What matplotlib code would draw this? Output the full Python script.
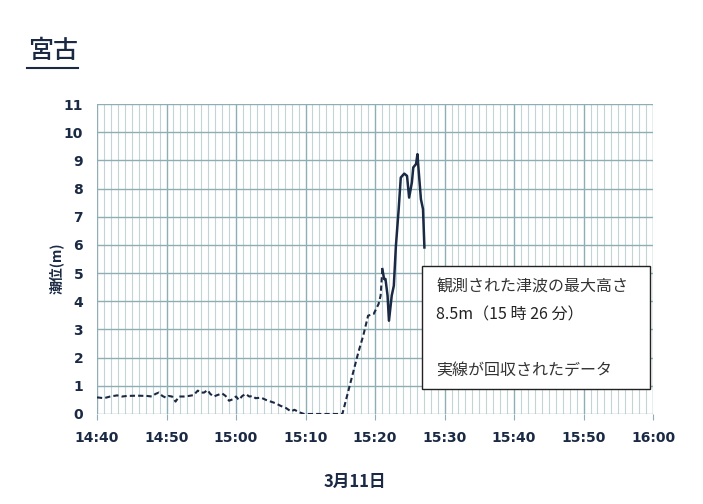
import matplotlib
matplotlib.use("Agg")
import matplotlib.pyplot as plt
from matplotlib.patches import Rectangle
from matplotlib.ticker import MultipleLocator

plt.rcParams['font.family'] = ['Noto Sans CJK JP', 'DejaVu Sans']

# time in minutes after 14:40
dashed_t = [0, 1, 1.9, 2.9, 3.6, 4.3, 5.8, 7.2, 7.9, 8.4, 8.9, 9.4, 9.9, 10.3, 10.8, 11.3,
            11.8, 12.5, 13.2, 13.9, 14.5, 14.9, 15.4, 15.9, 16.3, 16.8, 17.3, 18.0, 18.5,
            19.0, 19.5, 20.0, 20.4, 20.9, 21.4, 21.9, 22.4, 22.8, 23.6, 24.3, 25.0, 25.7,
            26.4, 27.2, 27.9, 28.4, 29.1, 29.8, 35.3, 36.6, 37.6, 38.3, 39.0, 39.8, 40.5,
            40.8, 41.05]
dashed_h = [0.59, 0.56, 0.62, 0.66, 0.62, 0.64, 0.65, 0.64, 0.62, 0.71, 0.76, 0.64, 0.58,
            0.64, 0.62, 0.44, 0.62, 0.62, 0.64, 0.67, 0.83, 0.76, 0.76, 0.85, 0.71, 0.62,
            0.67, 0.73, 0.64, 0.47, 0.52, 0.62, 0.50, 0.64, 0.71, 0.62, 0.64, 0.56, 0.58,
            0.50, 0.44, 0.38, 0.29, 0.21, 0.09, 0.15, 0.06, 0.0, 0.0, 1.24, 2.19, 2.78,
            3.49, 3.55, 3.9, 4.2, 5.14]

solid_t = [41.05, 41.3, 41.5, 41.8, 42.0, 42.4, 42.7, 43.0, 43.4, 43.7, 44.2, 44.6, 44.9,
           45.3, 45.5, 45.9, 46.1, 46.2, 46.6, 46.9, 47.1]
solid_h = [5.14, 4.79, 4.79, 4.2, 3.31, 4.2, 4.55, 5.97, 7.27, 8.39, 8.53, 8.45, 7.68,
           8.22, 8.75, 8.87, 9.22, 8.87, 7.62, 7.27, 5.91]

x_ticks = [0, 10, 20, 30, 40, 50, 60, 70, 80]
x_labels = ["14:40", "14:50", "15:00", "15:10", "15:20", "15:30", "15:40", "15:50", "16:00"]
y_ticks = list(range(0, 12))

navy = "#1b2a44"
grid_major = "#8eaeb3"
grid_minor = "#c4d3d5"

fig = plt.figure(figsize=(7.03, 5.04), dpi=100)
ax = fig.add_axes([0.138, 0.1786, 0.791, 0.615])

ax.plot(dashed_t, dashed_h, color=navy, lw=1.5, linestyle=(0, (2.5, 1.5)))
ax.plot(solid_t, solid_h, color=navy, lw=1.8, solid_joinstyle='round')

ax.set_xlim(0, 80)
ax.set_ylim(0, 11)
ax.set_xticks(x_ticks)
ax.set_xticklabels(x_labels)
ax.set_yticks(y_ticks)
ax.xaxis.set_minor_locator(MultipleLocator(1))
ax.grid(True, which='major', color=grid_major, lw=1.0)
ax.grid(True, which='minor', axis='x', color=grid_minor, lw=0.8)
ax.set_axisbelow(True)
for s in ax.spines.values():
    s.set_visible(False)
ax.tick_params(axis='x', which='major', length=4, color=grid_major, pad=8)
ax.tick_params(axis='x', which='minor', length=0)
ax.tick_params(axis='y', length=0, pad=10)
for lab in ax.get_xticklabels() + ax.get_yticklabels():
    lab.set_fontweight('bold')
    lab.set_fontsize(10)
    lab.set_color(navy)
    lab.set_family(['DejaVu Sans'])

ax.set_ylabel("潮位(m)", fontsize=10, fontweight='bold', color=navy)
ax.yaxis.set_label_coords(-0.06, 0.47)
ax.set_xlabel("3月11日", fontsize=12, fontweight='bold', color=navy)
ax.xaxis.set_label_coords(0.464, -0.19)

fig.text(0.04, 0.898, "宮古", fontsize=18, fontweight='medium', color=navy,
         ha='left', va='center')
fig.add_artist(plt.Line2D([0.038, 0.111], [0.866, 0.866], color=navy, lw=1.5))

rect = Rectangle((0.585, 0.081), 0.41, 0.396, transform=ax.transAxes,
                 facecolor='white', edgecolor='#222222', lw=1.0, zorder=5)
ax.add_patch(rect)
ax.text(0.61, 0.41, "観測された津波の最大高さ", transform=ax.transAxes,
        fontsize=11.5, color='#333333', va='center', ha='left', zorder=6)
ax.text(0.61, 0.32, "8.5m（15 時 26 分）", transform=ax.transAxes,
        fontsize=11.5, color='#222222', va='center', ha='left', zorder=6)
ax.text(0.61, 0.142, "実線が回収されたデータ", transform=ax.transAxes,
        fontsize=11.5, color='#333333', va='center', ha='left', zorder=6)

fig.savefig("out.png", dpi=100)
